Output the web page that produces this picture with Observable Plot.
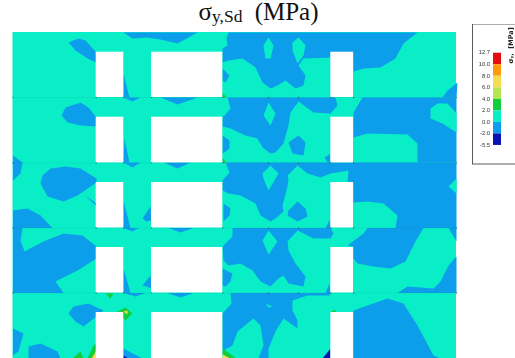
<!DOCTYPE html>
<html><head><meta charset="utf-8">
<script src="https://cdn.jsdelivr.net/npm/d3@7"></script>
<script src="https://cdn.jsdelivr.net/npm/@observablehq/plot@0.6"></script>
<style>
html,body{margin:0;padding:0;background:#fff;width:515px;height:358px;overflow:hidden}
#title{position:relative;z-index:2;height:24px;width:517px;text-align:center;font-family:"Liberation Serif",serif;font-size:25px;line-height:23px;color:#111;white-space:nowrap}
#title sub{font-size:17.5px;line-height:0;vertical-align:-2px;margin-right:6px}
#chart svg{display:block;filter:blur(.45px);background:transparent}
</style></head><body>
<div id="title">σ<sub>y,Sd</sub> (MPa)</div>
<div id="chart"></div>
<script>
// Legend
const legendLabels = ["12.7","10.0","8.0","6.0","4.0","2.0","0.0","-2.0","-5.5"];
const bandNames = ["b8","b7","b6","b5","b4","b3","b2","b1"];
const bandColors = ["#e60f0f","#ff9a0a","#f5dc50","#b4e650","#14cd3c","#0aeec8","#0c9eea","#0a14b4"];
// Wall extents and openings (model units)
const wallX = [12.5, 456], wallY = [32, 358];
const floors = [97, 162.4, 227.5, 292.5];
const storeyTops = [51.7, 116.7, 182, 247, 312];
const storeyBottoms = [97, 162.4, 227.5, 292.5, 358];
const openingsX = [[95.7,123.3],[151,222.3],[330.3,353]];
// Stress contour regions
const blue = [
 [[123,32],[132,38],[147,37],[160,39],[177,43],[197,32]],
 [[68,42],[78,38],[85,40],[96,52],[96,62],[87,58],[75,50]],
 [[61,115],[65,107],[80,102],[88,107],[96,117],[96,126],[80,125],[67,122]],
 [[160,97],[177,104],[197,97]],
 [[123,97],[132,101],[140,97]],
 [[123,73],[129,97],[123,97]],
 [[124,138],[129,162],[123,162]],
 [[123,162],[132,167],[140,162]],
 [[163,162],[177,168],[190,162]],
 [[12.5,155],[22,162],[20,173],[12.5,180]],
 [[42,175],[50,168],[65,166],[80,168],[96,178],[96,182],[77,195],[63,201],[47,196],[40,183]],
 [[85,195],[96,203],[96,206]],
 [[228,32],[417,32],[403,43],[395,58],[380,67],[363,68],[353,71],[353,52],[330,52],[331,57],[303,58],[298,65],[305,75],[303,85],[295,88],[285,80],[277,85],[270,88],[262,82],[255,67],[242,58],[228,60],[222,62],[222,48],[227,45],[226,38]],
 [[222,68],[229,75],[225,82],[222,80]],
 [[457,82],[447,90],[442,97],[456,97]],
 [[227,97],[335,97],[337,105],[330,113],[313,112],[298,101],[290,112],[288,125],[283,143],[275,152],[270,153],[262,147],[257,138],[245,135],[230,128],[222,126],[222,116],[224,115],[230,108]],
 [[222,135],[229,140],[229,148],[224,152],[222,153]],
 [[288,142],[298,135],[305,142],[303,155],[292,153]],
 [[324,157],[330,153],[330,162],[327,162]],
 [[362,97],[353,112],[353,137],[367,133],[407,134],[417,143],[417,162],[456,162],[456,97]],
 [[300,162],[456,162],[456,227.5],[395,227.5],[397,215],[383,203],[367,201],[353,202],[353,182],[347,181],[348,170],[330,173],[320,177],[307,173],[297,165]],
 [[225,162],[300,162],[297,165],[287,175],[288,178],[287,186],[282,205],[283,211],[275,218],[270,221],[260,215],[255,203],[240,195],[228,193],[222,190],[222,180],[229,172]],
 [[223,203],[230,208],[229,215],[223,221]],
 [[330,218],[330,227.5],[325,227.5]],
 [[12.5,210],[27,208],[40,215],[52,227.5],[12.5,227.5]],
 [[123,200],[130,227.5],[123,227.5]],
 [[142,218],[150,206],[151,220],[146,221]],
 [[123,227.5],[132,231],[138,227.5]],
 [[168,227.5],[180,232],[193,227.5]],
 [[12.5,227.5],[22,227.5],[20,240],[24,251],[43,241],[63,233],[82,235],[96,246],[96,258],[77,270],[55,281],[63,292.5],[12.5,292.5]],
 [[142,285],[150,275],[151,288],[146,286]],
 [[123,268],[130,292.5],[123,292.5]],
 [[123,292.5],[135,296],[145,292.5]],
 [[167,292.5],[180,297],[193,292.5]],
 [[232,227.5],[330,227.5],[333,233],[330,238],[313,238],[297,230],[287,241],[288,250],[295,263],[305,276],[303,286],[288,283],[283,275],[278,278],[270,286],[260,281],[252,270],[240,263],[228,265],[223,260],[222,246],[232,236]],
 [[222,268],[232,273],[230,281],[225,286],[222,285]],
 [[329,283],[330,292.5],[325,292.5]],
 [[347,245],[363,233],[367,227.5],[423,227.5],[415,241],[405,261],[390,268],[373,266],[357,263],[353,258],[353,246]],
 [[448,227.5],[456,241],[456,227.5]],
 [[456,256],[448,265],[440,281],[433,288],[407,286],[397,292.5],[456,292.5]],
 [[230,292.5],[330,292.5],[329,295],[307,295],[292,300],[292,310],[297,320],[297,328],[283,318],[275,331],[268,348],[268,358],[258,358],[263,345],[260,325],[253,318],[237,331],[232,345],[223,350],[222,350],[222,313],[231,303]],
 [[353,310],[367,305],[387,298],[403,303],[417,325],[433,355],[440,358],[353,358]],
 [[12.5,328],[23,333],[18,351],[12.5,355]],
 [[28,346],[40,343],[57,351],[60,358],[28,358]],
 [[68,313],[73,306],[88,303],[103,310],[96,316],[83,326],[75,321]],
 [[123,348],[142,358],[123,358]]
];
const turquoise = [
 [[268,37],[273,45],[270,58],[265,58],[263,45]],
 [[298,37],[305,45],[303,55],[297,63],[292,50],[292,42]],
 [[268,102],[275,113],[270,125],[263,115]],
 [[430,108],[437,103],[447,103],[456,113],[456,132],[442,123],[430,118]],
 [[270,165],[278,173],[275,178],[268,190],[263,178],[262,173]],
 [[268,230],[277,241],[268,254],[262,240]],
 [[456,178],[448,186],[456,193]],
 [[265,303],[272,306],[268,307]]
];
const blueOverlay = [
 [[288,210],[297,201],[305,208],[307,216],[297,221],[287,215]]
];
const green = [
 [[105,293],[113,293],[110,298]],
 [[117,311],[125,307],[132,313],[125,320]],
 [[72,358],[80,351],[83,358]],
 [[87,358],[93,345],[96,343],[96,358]],
 [[329,312],[335,309],[335,312]],
 [[222,348],[235,357],[222,358]],
 [[222,92],[226,97],[222,97]],
 [[222,157],[226,162.4],[222,162.4]]
];
const yellow = [
 [[91,358],[96,350],[96,358]],
 [[222,354],[230,358],[222,358]],
 [[123,311],[127,310],[127,314]]
];
const dark = [
 [[123,355],[128,358],[123,358]],
 [[322,358],[330,348],[330,358]]
];
const toPoints = (regions, band, tag) => regions.flatMap((r,i)=>r.map(([x,y])=>({x,y,band,id:tag+i})));
const contour = [
 ...toPoints(blue,"b2","a"),
 ...toPoints(turquoise,"b3","b"),
 ...toPoints(blueOverlay,"b2","c"),
 ...toPoints(green,"b4","d"),
 ...toPoints(yellow,"b6","e"),
 ...toPoints(dark,"b1","f")
];
const openings = storeyTops.flatMap((t,i)=>openingsX.map(([a,b])=>({a,b,t,u:storeyBottoms[i]})));
const nodes = floors.flatMap(y=>[12.5,95.7,123.3,151,222.3,268,298,330.3,353,456].map(x=>({x,y})));
const swatches = bandNames.map((band,i)=>({band,i}));
const legendY = i => 52.7 + i*11.53;
const plot = Plot.plot({
  width:515,height:334,margin:0,
  x:{domain:[0,515],axis:null},
  y:{domain:[358,24],axis:null},
  color:{domain:bandNames,range:bandColors},
  marks:[
    Plot.rect([0],{x1:wallX[0],x2:wallX[1],y1:wallY[0],y2:wallY[1],fill:bandColors[5]}),
    Plot.line(contour,{x:"x",y:"y",z:"id",fill:"band",stroke:null,curve:"linear"}),
    Plot.ruleY(floors,{x1:wallX[0],x2:wallX[1],stroke:"#0a6a70",strokeOpacity:.14,strokeWidth:.6}),
    Plot.rect(openings,{x1:"a",x2:"b",y1:"t",y2:"u",fill:"#fff"}),
    Plot.dot(nodes,{x:"x",y:"y",r:.7,fill:"#14403a",fillOpacity:.6}),
    // legend
    Plot.rect([0],{x1:472.5,x2:516,y1:24,y2:164,fill:"#fff",stroke:"#333",strokeWidth:.8}),
    Plot.rect(swatches,{x1:493,x2:501,y1:d=>legendY(d.i),y2:d=>legendY(d.i+1),fill:"band"}),
    Plot.text(legendLabels,{x:489.5,y:(d,i)=>legendY(i)-.6,text:d=>d,textAnchor:"end",fontSize:5.8,fontFamily:"Liberation Sans",fill:"#333"}),
    Plot.text(["σᵧ,  [MPa]"],{x:510,y:45,text:d=>d,rotate:-90,fontSize:6.5,fontWeight:"bold",fontFamily:"DejaVu Sans",fill:"#222"})
  ]
});
document.getElementById("chart").append(plot);
</script>
</body></html>
